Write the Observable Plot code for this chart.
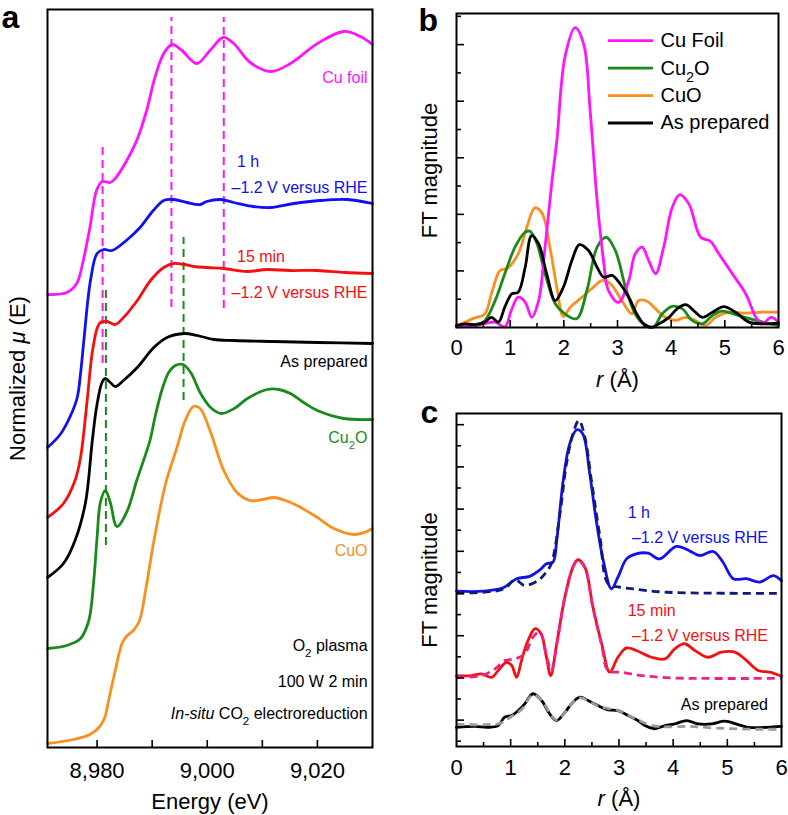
<!DOCTYPE html>
<html><head><meta charset="utf-8">
<script src="https://cdn.jsdelivr.net/npm/d3@7"></script>
<script src="https://cdn.jsdelivr.net/npm/@observablehq/plot@0.6"></script>
<style>
html,body{margin:0;padding:0;background:#fff;}
#fig{position:relative;width:788px;height:815px;overflow:hidden;font-family:"Liberation Sans",Arial,sans-serif;}
#fig svg{position:absolute;overflow:visible;}
</style></head><body><div id="fig"></div>
<script>
// ---------------- Panel a : XANES (energy eV, normalized mu with offsets) ----------------
const energyTicks = [8980, 8990, 9000, 9010, 9020];
const energyTickLabels = [8980, 9000, 9020];
const xanesCuFoil = [[8971,4.53],[8974.5,4.55],[8976.3,4.64],[8977.5,4.87],[8978.7,5.20],[8979.9,5.57],[8980.9,5.66],[8982.4,5.65],[8983.3,5.69],[8985.4,5.87],[8987.2,6.07],[8989.0,6.37],[8990.5,6.70],[8992.1,6.94],[8993.6,7.03],[8995.4,6.97],[8998.1,6.84],[9000.5,6.97],[9002.9,7.10],[9004.8,7.04],[9007.8,6.85],[9011.5,6.76],[9015.1,6.84],[9020.0,7.04],[9024.8,7.16],[9027.8,7.11],[9030,7.03]];
const xanes1h = [[8971,3.00],[8973.3,3.13],[8975.2,3.32],[8976.4,3.50],[8977.0,3.74],[8977.6,4.07],[8978.8,4.67],[8980.0,4.94],[8981.2,4.98],[8982.7,4.97],[8985.3,5.07],[8987.8,5.20],[8990.2,5.37],[8992.1,5.47],[8993.9,5.48],[8996.3,5.45],[8998.7,5.43],[8999.9,5.46],[9002.4,5.48],[9004.8,5.45],[9008.4,5.41],[9011.5,5.40],[9015.7,5.44],[9020.5,5.47],[9025.4,5.48],[9030,5.44]];
const xanes15min = [[8971,2.30],[8973.9,2.44],[8976.0,2.67],[8977.0,2.90],[8978.2,3.47],[8979.1,3.94],[8980.0,4.19],[8980.6,4.25],[8981.8,4.26],[8983.3,4.23],[8984.8,4.30],[8987.3,4.47],[8989.7,4.67],[8992.1,4.80],[8993.9,4.84],[8995.8,4.83],[8997.6,4.81],[9000,4.80],[9003,4.79],[9007.3,4.76],[9010.8,4.78],[9015,4.77],[9020,4.77],[9025,4.75],[9030,4.74]];
const xanesAsPrepared = [[8971,1.70],[8973.9,1.84],[8976,2.07],[8977.9,2.45],[8979.1,3.05],[8979.9,3.40],[8980.9,3.65],[8981.5,3.69],[8982.4,3.65],[8983.3,3.61],[8984.8,3.67],[8987.3,3.80],[8990.3,4.00],[8992.7,4.10],[8995.8,4.14],[8998.2,4.12],[9001.2,4.08],[9004.9,4.07],[9012,4.06],[9020,4.05],[9030,4.04]];
const xanesCu2O = [[8971,0.99],[8974.5,1.02],[8977,1.09],[8978.5,1.27],[8979.4,1.67],[8980.0,2.10],[8980.6,2.45],[8981.5,2.57],[8982.4,2.45],[8983.6,2.21],[8985.5,2.37],[8987.2,2.67],[8989.6,3.07],[8990.5,3.30],[8991.8,3.58],[8993,3.75],[8994.2,3.82],[8995.6,3.83],[8997,3.75],[8998.8,3.54],[9000.6,3.40],[9002.5,3.34],[9004.9,3.39],[9007.3,3.49],[9010.9,3.58],[9013,3.58],[9015.1,3.54],[9017.5,3.45],[9020,3.37],[9024.8,3.29],[9030,3.28]];
const xanesCuO = [[8971,0.04],[8975.7,0.08],[8978.7,0.13],[8980.5,0.21],[8981.4,0.30],[8982.1,0.47],[8983.3,0.77],[8984.6,1.05],[8985.5,1.12],[8986.6,1.17],[8987.7,1.27],[8988.9,1.60],[8990.1,2.00],[8991.3,2.35],[8992.5,2.65],[8994.5,3.00],[8996,3.27],[8997.5,3.41],[8998.7,3.39],[9000.5,3.17],[9003,2.77],[9005.4,2.55],[9007.8,2.47],[9010,2.48],[9012.1,2.50],[9014.2,2.47],[9016.3,2.42],[9020,2.30],[9023,2.19],[9026.6,2.13],[9028.5,2.15],[9030,2.19]];
// reference lines: [energy, mu from, mu to]
const refLinesFoil = [[8981.0,3.84,6.04],[8993.5,4.40,7.30],[9003.0,4.39,7.30]];
const refLinesCu2O = [[8981.6,2.02,4.60],[8995.7,3.47,5.10]];

// ---------------- Panel b : FT magnitude of references ----------------
const rTicks = [0,1,2,3,4,5,6];
const ftCuFoil = [[0,0.07],[0.3,0.05],[0.55,0.15],[0.72,0.19],[0.9,0.02],[1.02,0.6],[1.15,1.07],[1.28,0.9],[1.40,0.36],[1.53,0.95],[1.65,2.84],[1.78,5.19],[1.87,6.61],[2.02,9.55],[2.21,10.6],[2.37,10.02],[2.49,7.67],[2.62,4.49],[2.74,2.37],[2.83,1.31],[3.02,0.89],[3.21,1.66],[3.33,2.60],[3.46,2.84],[3.58,2.37],[3.71,1.90],[3.86,2.84],[4.02,4.25],[4.16,4.70],[4.33,4.37],[4.55,3.19],[4.73,3.05],[4.89,2.60],[5.14,1.90],[5.39,1.19],[5.58,0.36],[5.70,0.13],[5.86,0.36],[6.0,0.19]];
const ftCu2O = [[0,0.02],[0.34,0.07],[0.53,0.25],[0.72,0.95],[0.9,1.90],[1.09,2.84],[1.28,3.37],[1.37,3.40],[1.50,2.96],[1.65,1.90],[1.84,0.84],[2.02,0.48],[2.24,0.31],[2.43,1.31],[2.62,2.84],[2.79,3.19],[2.96,2.72],[3.15,1.42],[3.33,0.48],[3.52,0.07],[3.67,0.01],[3.83,0.48],[4.02,0.75],[4.21,0.66],[4.39,0.25],[4.58,0.13],[4.77,0.42],[4.95,0.58],[5.26,0.42],[5.58,0.25],[6.0,0.07]];
const ftCuO = [[0,0.05],[0.16,0.19],[0.34,0.34],[0.53,0.48],[0.65,1.19],[0.81,2.01],[0.96,2.11],[1.15,2.60],[1.31,3.54],[1.46,4.23],[1.60,4.02],[1.74,2.84],[1.87,1.42],[1.99,0.39],[2.12,0.72],[2.30,1.01],[2.52,1.37],[2.71,1.66],[2.87,1.54],[3.08,0.95],[3.27,0.48],[3.39,0.95],[3.55,0.93],[3.71,0.66],[3.89,0.36],[4.08,0.25],[4.27,0.36],[4.45,0.25],[4.64,0.07],[4.83,0.36],[5.08,0.54],[5.39,0.51],[5.70,0.54],[6.0,0.54]];
const ftAsPrepared = [[0,0.07],[0.16,0.13],[0.34,0.10],[0.53,0.19],[0.65,0.36],[0.78,0.19],[0.9,0.72],[1.03,1.19],[1.15,1.25],[1.28,2.13],[1.40,3.25],[1.53,2.96],[1.68,1.90],[1.84,0.95],[1.99,1.42],[2.15,2.37],[2.29,2.93],[2.46,2.72],[2.62,2.13],[2.74,1.78],[2.90,1.84],[3.05,1.54],[3.21,1.07],[3.36,0.48],[3.49,0.13],[3.64,0.01],[3.77,0.13],[3.96,0.36],[4.11,0.66],[4.27,0.81],[4.42,0.60],[4.58,0.36],[4.77,0.54],[4.98,0.74],[5.20,0.54],[5.45,0.19],[5.70,0.13],[6.0,0.15]];
const legendLabels = ["Cu Foil", "Cu_2O", "CuO", "As prepared"];

// ---------------- Panel c : FT magnitude, data (solid) and fits (dashed), offset ----------------
const ft1hData = [[0,7.11],[0.49,7.11],[0.86,7.27],[1.11,7.70],[1.35,7.81],[1.54,8.12],[1.66,8.41],[1.78,8.48],[1.85,9.51],[1.97,12.36],[2.09,14.09],[2.22,14.76],[2.33,14.57],[2.46,12.67],[2.58,10.46],[2.71,8.56],[2.86,7.22],[2.98,7.77],[3.14,8.64],[3.32,8.88],[3.54,8.91],[3.75,8.64],[4.06,9.23],[4.31,9.01],[4.49,8.80],[4.74,8.99],[4.92,8.48],[5.11,7.70],[5.35,7.70],[5.60,7.54],[5.85,7.85],[6.0,7.60]];
const ft1hFit = [[0,7.02],[0.86,7.2],[1.08,7.65],[1.26,7.38],[1.51,7.62],[1.63,7.93],[1.75,8.41],[1.91,10.78],[2.03,13.15],[2.15,14.57],[2.26,15.2],[2.37,14.41],[2.49,12.36],[2.65,9.67],[2.80,7.46],[3.01,7.30],[3.26,7.22],[3.51,7.14],[3.88,7.06],[4.5,7.02],[6.0,7.01]];
const ft15mData = [[0,3.11],[0.28,3.11],[0.46,3.19],[0.65,3.03],[0.77,3.35],[0.92,3.74],[1.02,3.59],[1.11,3.03],[1.20,3.82],[1.32,4.77],[1.45,5.33],[1.56,5.09],[1.66,3.98],[1.74,3.11],[1.85,4.62],[2.00,6.82],[2.15,8.25],[2.24,8.60],[2.37,8.25],[2.52,6.35],[2.68,4.62],[2.83,3.27],[2.98,3.98],[3.14,4.42],[3.32,4.30],[3.60,3.98],[3.85,3.90],[4.03,4.38],[4.21,4.62],[4.40,4.30],[4.64,3.98],[4.89,4.22],[5.14,4.22],[5.32,3.90],[5.57,3.35],[5.78,3.27],[6.0,3.08]];
const ft15mFit = [[0,3.03],[0.46,3.11],[0.71,3.43],[0.89,3.82],[1.08,3.90],[1.26,4.14],[1.41,4.93],[1.54,5.17],[1.66,4.06],[1.75,3.35],[1.85,4.55],[2.00,6.80],[2.15,8.25],[2.24,8.58],[2.37,8.22],[2.52,6.30],[2.68,4.55],[2.80,3.35],[3.05,3.27],[3.42,3.11],[3.97,3.00],[6.0,2.98]];
const ftAsPrepData = [[0,0.66],[0.34,0.70],[0.58,0.66],[0.77,0.74],[0.89,1.14],[1.02,1.22],[1.14,1.45],[1.26,1.77],[1.41,2.25],[1.57,1.93],[1.72,1.30],[1.85,0.98],[2.00,1.37],[2.15,1.85],[2.28,2.09],[2.43,1.93],[2.61,1.69],[2.80,1.49],[2.98,1.45],[3.17,1.22],[3.35,0.98],[3.48,0.74],[3.66,0.59],[3.85,0.74],[4.03,0.82],[4.25,0.98],[4.46,0.82],[4.71,0.82],[4.95,0.95],[5.20,0.79],[5.38,0.66],[6.0,0.70]];
const ftAsPrepFit = [[0,0.80],[0.5,0.78],[0.8,0.84],[1.0,1.15],[1.2,1.50],[1.41,2.20],[1.57,1.95],[1.72,1.35],[1.85,1.00],[2.0,1.35],[2.15,1.85],[2.28,2.05],[2.45,1.90],[2.62,1.65],[2.8,1.55],[3.0,1.45],[3.2,1.20],[3.4,0.95],[3.6,0.75],[3.9,0.68],[4.3,0.70],[4.8,0.62],[5.4,0.57],[6.0,0.57]];

// ---------------- styling ----------------
const FONT = '"Liberation Sans", Arial, Helvetica, sans-serif';
const C = {mag:"#ff14ff", blue:"#1010f0", red:"#f51010", black:"#000", green:"#1a8a1a", orange:"#f7901e", navy:"#101a7a", pink:"#e8258c", gray:"#9a9a9a"};
const rows = pts => pts.map(([x, y]) => ({x, y}));
const tickRange = (a, b, s) => d3.range(a, b + 1e-9, s);

function line(pts, stroke, extra = {}) {
  return Plot.line(rows(pts), {x: "x", y: "y", stroke, strokeWidth: 2.8, curve: "catmull-rom", strokeLinejoin: "round", strokeLinecap: "round", ...extra});
}
function label(t, x, y, fill, anchor, size = 16, extra = {}) {
  return Plot.text([{t, x, y}], {x: "x", y: "y", text: "t", fill, textAnchor: anchor, lineAnchor: "middle", fontSize: size, ...extra});
}
function frameText(t, opts) {
  return Plot.text([t], {text: d => d, lineAnchor: "middle", ...opts});
}

// convert simple markup (*italic*, _2 subscript) into tspans
function rich(svg) {
  const ns = "http://www.w3.org/2000/svg";
  svg.querySelectorAll("text").forEach(t => {
    const s = t.textContent;
    if (!/[*_]/.test(s)) return;
    while (t.firstChild) t.removeChild(t.firstChild);
    let italic = false, buf = "";
    const add = (txt, attrs) => { const ts = document.createElementNS(ns, "tspan"); for (const k in attrs) ts.setAttribute(k, attrs[k]); ts.textContent = txt; t.appendChild(ts); };
    const flush = () => { if (buf) { add(buf, italic ? {"font-style": "italic"} : {}); buf = ""; } };
    for (let i = 0; i < s.length; i++) {
      const c = s[i];
      if (c === "*") { flush(); italic = !italic; }
      else if (c === "_") { flush(); add(s[++i], {"baseline-shift": "sub", "font-size": "72%"}); }
      else buf += c;
    }
    flush();
  });
}

const fig = document.getElementById("fig");
function place(svg, left, top) { svg.style.left = left + "px"; svg.style.top = top + "px"; rich(svg); fig.appendChild(svg); }

// ---------------- Panel a ----------------
{
  const W = 380, H = 815, mL = 47, mR = 8, mT = 9, mB = 68;
  const yDom = [0, 7.38], xDom = [8971, 9030];
  const yPerPx = (yDom[1] - yDom[0]) / (H - mT - mB);
  const refRows = (arr) => arr.map(([x, y1, y2]) => ({x, y1, y2}));
  const svg = Plot.plot({
    width: W, height: H, marginLeft: mL, marginRight: mR, marginTop: mT, marginBottom: mB,
    style: {fontFamily: FONT, background: "transparent", overflow: "visible"},
    x: {domain: xDom, label: null},
    y: {domain: yDom, axis: null, label: null},
    marks: [
      Plot.ruleX(refRows(refLinesFoil), {x: "x", y1: "y1", y2: "y2", stroke: C.mag, strokeWidth: 2, strokeDasharray: "8,5"}),
      Plot.ruleX(refRows(refLinesCu2O), {x: "x", y1: "y1", y2: "y2", stroke: C.green, strokeWidth: 2, strokeDasharray: "8,5"}),
      line(xanesCuO, C.orange),
      line(xanesCu2O, C.green),
      line(xanesAsPrepared, C.black),
      line(xanes15min, C.red),
      line(xanes1h, C.blue),
      line(xanesCuFoil, C.mag),
      Plot.ruleX(energyTicks, {x: d => d, y1: yDom[0], y2: yDom[0] + 7 * yPerPx, stroke: "black", strokeWidth: 1.6}),
      Plot.frame({stroke: "black", strokeWidth: 2}),
      Plot.axisX({ticks: energyTickLabels, tickFormat: d3.format(","), tickSize: 0, tickPadding: 15, fontSize: 22, label: null}),
      frameText("Energy (eV)", {frameAnchor: "bottom", textAnchor: "middle", dy: 54, fontSize: 22}),
      frameText("Normalized *μ* (E)", {frameAnchor: "left", textAnchor: "middle", rotate: -90, dx: -30, fontSize: 22}),
      frameText("a", {frameAnchor: "top-left", textAnchor: "start", dx: -46, dy: 8.5, fontSize: 32, fontWeight: "bold"}),
      label("Cu foil", 9029.1, 6.70, C.mag, "end"),
      label("1 h", 9005.4, 5.86, C.blue, "start"),
      label("–1.2 V versus RHE", 9029.1, 5.60, C.blue, "end"),
      label("15 min", 9005.4, 4.91, C.red, "start"),
      label("–1.2 V versus RHE", 9029.1, 4.55, C.red, "end"),
      label("As prepared", 9029.1, 3.86, C.black, "end"),
      label("Cu_2O", 9029.1, 3.10, C.green, "end"),
      label("CuO", 9029.1, 1.97, C.orange, "end"),
      label("O_2 plasma", 9029.1, 1.02, C.black, "end"),
      label("100 W 2 min", 9029.1, 0.66, C.black, "end"),
      label("*In-situ* CO_2 electroreduction", 9029.1, 0.34, C.black, "end")
    ]
  });
  place(svg, 0, 0);
}

// ---------------- Panel b ----------------
{
  const W = 388, H = 400, mL = 56, mR = 10, mT = 13, mB = 73;
  const xDom = [0, 6], yDom = [0, 11.1];
  const xPerPx = (xDom[1] - xDom[0]) / (W - mL - mR);
  const yPerPx = (yDom[1] - yDom[0]) / (H - mT - mB);
  const xt = tickRange(0.5, 5.5, 0.5);
  const yt = tickRange(1, 11, 1);
  const legendColors = [C.mag, C.green, C.orange, C.black];
  const legRows = legendLabels.map((t, i) => ({t, y: 10.14 - i * 0.97, c: legendColors[i]}));
  const svg = Plot.plot({
    width: W, height: H, marginLeft: mL, marginRight: mR, marginTop: mT, marginBottom: mB,
    style: {fontFamily: FONT, background: "transparent", overflow: "visible"},
    x: {domain: xDom, label: null},
    y: {domain: yDom, axis: null, label: null},
    marks: [
      line(ftCuO, C.orange),
      line(ftCu2O, C.green),
      line(ftCuFoil, C.mag),
      line(ftAsPrepared, C.black),
      Plot.ruleX(xt, {x: d => d, y1: yDom[0], y2: d => yDom[0] + (Number.isInteger(d) ? 7 : 4) * yPerPx, stroke: "black", strokeWidth: 1.6}),
      Plot.ruleY(yt, {y: d => d, x1: xDom[0], x2: d => xDom[0] + (d % 2 === 0 ? 8 : 5) * xPerPx, stroke: "black", strokeWidth: 1.6}),
      Plot.frame({stroke: "black", strokeWidth: 2}),
      Plot.axisX({ticks: rTicks, tickFormat: d3.format("d"), tickSize: 0, tickPadding: 12, fontSize: 22, label: null}),
      frameText("*r* (Å)", {frameAnchor: "bottom", textAnchor: "middle", dy: 52, fontSize: 22}),
      frameText("FT magnitude", {frameAnchor: "left", textAnchor: "middle", rotate: -90, dx: -27, fontSize: 22}),
      frameText("b", {frameAnchor: "top-left", textAnchor: "start", dx: -38, dy: 7, fontSize: 32, fontWeight: "bold"}),
      ...legRows.map(r => Plot.ruleY([r], {y: "y", x1: 2.83, x2: 3.67, stroke: r.c, strokeWidth: 2.8})),
      ...legRows.map(r => Plot.text([r], {x: 3.80, y: "y", text: "t", textAnchor: "start", lineAnchor: "middle", fontSize: 20, fill: "black"}))
    ]
  });
  place(svg, 400, 0);
}

// ---------------- Panel c ----------------
{
  const W = 388, H = 435, mL = 56, mR = 7, mT = 33, mB = 69;
  const xDom = [0, 6], yDom = [-0.25, 15.53];
  const xPerPx = (xDom[1] - xDom[0]) / (W - mL - mR);
  const yPerPx = (yDom[1] - yDom[0]) / (H - mT - mB);
  const xt = tickRange(0.5, 5.5, 0.5);
  const yt = tickRange(0, 15, 1);
  const svg = Plot.plot({
    width: W, height: H, marginLeft: mL, marginRight: mR, marginTop: mT, marginBottom: mB,
    style: {fontFamily: FONT, background: "transparent", overflow: "visible"},
    x: {domain: xDom, label: null},
    y: {domain: yDom, axis: null, label: null},
    marks: [
      line(ftAsPrepData, C.black),
      line(ftAsPrepFit, C.gray, {strokeDasharray: "8,5", strokeLinecap: "butt"}),
      line(ft15mData, C.red),
      line(ft15mFit, C.pink, {strokeDasharray: "8,5", strokeLinecap: "butt"}),
      line(ft1hData, C.blue),
      line(ft1hFit, C.navy, {strokeDasharray: "8,5", strokeLinecap: "butt"}),
      Plot.ruleX(xt, {x: d => d, y1: yDom[0], y2: d => yDom[0] + (Number.isInteger(d) ? 7 : 4) * yPerPx, stroke: "black", strokeWidth: 1.6}),
      Plot.ruleY(yt, {y: d => d, x1: xDom[0], x2: d => xDom[0] + (d % 2 === 1 ? 8 : 5) * xPerPx, stroke: "black", strokeWidth: 1.6}),
      Plot.frame({stroke: "black", strokeWidth: 2}),
      Plot.axisX({ticks: rTicks, tickFormat: d3.format("d"), tickSize: 0, tickPadding: 13, fontSize: 22, label: null}),
      frameText("*r* (Å)", {frameAnchor: "bottom", textAnchor: "middle", dy: 52, fontSize: 22}),
      frameText("FT magnitude", {frameAnchor: "left", textAnchor: "middle", rotate: -90, dx: -27, fontSize: 22}),
      frameText("c", {frameAnchor: "top-left", textAnchor: "start", dx: -36, dy: -1, fontSize: 32, fontWeight: "bold"}),
      label("1 h", 3.16, 10.84, C.blue, "start"),
      label("–1.2 V versus RHE", 5.75, 9.65, C.blue, "end"),
      label("15 min", 3.16, 6.19, C.red, "start"),
      label("–1.2 V versus RHE", 5.75, 5.01, C.red, "end"),
      label("As prepared", 5.75, 1.74, C.black, "end")
    ]
  });
  place(svg, 400, 380);
}
</script></body></html>
